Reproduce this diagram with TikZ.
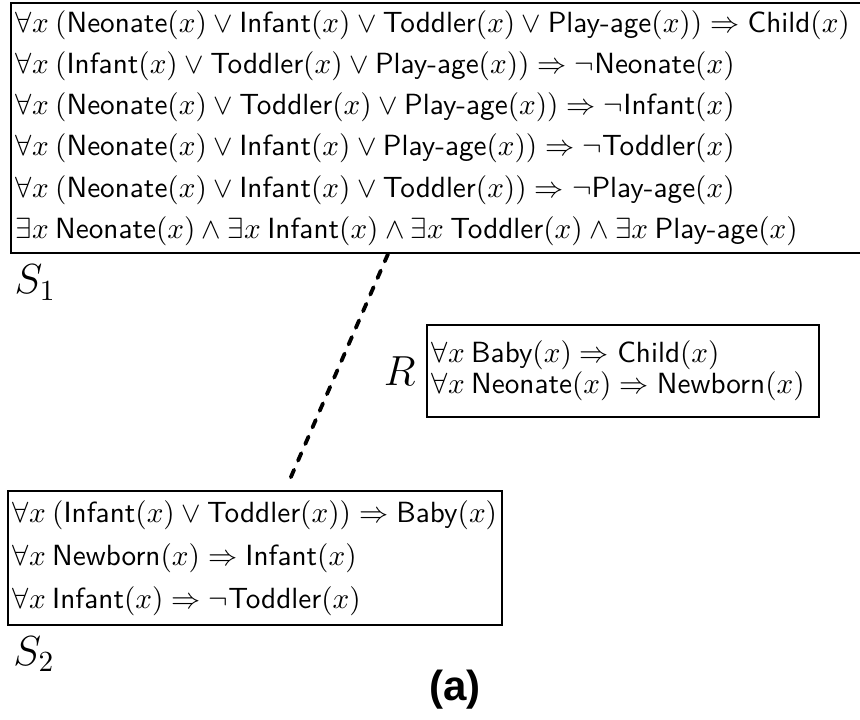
\documentclass[tikz,border=0pt]{standalone}
\usepackage{amsmath,amssymb}
\usepackage{fontspec}
\newfontfamily\capfont{Liberation Sans}
\usepackage{tikz}
\usetikzlibrary{positioning}

\newcommand{\pr}[1]{\textsf{#1}}

\begin{document}
\begin{tikzpicture}[x=0.3425pt, y=-0.3425pt,
  axioms/.style={draw, line width=0.6pt, anchor=north west, align=left,
                 inner xsep=1.7pt, inner ysep=#1},
  ontname/.style={font=\Large, inner sep=0pt},
  link/.style={line width=1.3pt, line cap=round, dash pattern=on 2.8pt off 3.4pt}]
  \useasboundingbox (0,0) rectangle (860,719);
  \node[axioms=2.6pt, text width=290pt, font=\fontsize{10}{14.1}\selectfont] (s1) at (10,2)
    {$\forall x\:(\pr{Neonate}(x) \lor \pr{Infant}(x) \lor \pr{Toddler}(x) \lor \pr{Play-age}(x)) \Rightarrow \pr{Child}(x)$\\
     $\forall x\:(\pr{Infant}(x) \lor \pr{Toddler}(x) \lor \pr{Play-age}(x)) \Rightarrow \neg\pr{Neonate}(x)$\\
     $\forall x\:(\pr{Neonate}(x) \lor \pr{Toddler}(x) \lor \pr{Play-age}(x)) \Rightarrow \neg\pr{Infant}(x)$\\
     $\forall x\:(\pr{Neonate}(x) \lor \pr{Infant}(x) \lor \pr{Play-age}(x)) \Rightarrow \neg\pr{Toddler}(x)$\\
     $\forall x\:(\pr{Neonate}(x) \lor \pr{Infant}(x) \lor \pr{Toddler}(x)) \Rightarrow \neg\pr{Play-age}(x)$\\
     $\exists x\:\pr{Neonate}(x) \land \exists x\:\pr{Infant}(x) \land \exists x\:\pr{Toddler}(x) \land \exists x\:\pr{Play-age}(x)$};
  \node[ontname, below right=3.6pt and 1.4pt of s1.south west] (s1name) {$S_1$};
  \node[axioms=5.5pt, text width=130.8pt, font=\fontsize{10}{10.5}\selectfont] (r) at (426,324)
    {$\forall x\:\pr{Baby}(x) \Rightarrow \pr{Child}(x)$\\
     $\forall x\:\pr{Neonate}(x) \Rightarrow \pr{Newborn}(x)$};
  \node[ontname, left=3.4pt of r] (rname) {$R$};
  \node[axioms=3.2pt, font=\fontsize{10}{14.8}\selectfont] (s2) at (7,490)
    {$\forall x\:(\pr{Infant}(x) \lor \pr{Toddler}(x)) \Rightarrow \pr{Baby}(x)$\\
     $\forall x\:\pr{Newborn}(x) \Rightarrow \pr{Infant}(x)$\\
     $\forall x\:\pr{Infant}(x) \Rightarrow \neg\pr{Toddler}(x)$};
  \node[ontname, below right=3.4pt and 2pt of s2.south west] (s2name) {$S_2$};
  \node[font=\capfont\bfseries\Large] (caption) at (455,690) {(a)};
  \draw[link] ([shift={(378,0)}]s1.south west) -- ([shift={(280,-4)}]s2.north west);
\end{tikzpicture}
\end{document}
